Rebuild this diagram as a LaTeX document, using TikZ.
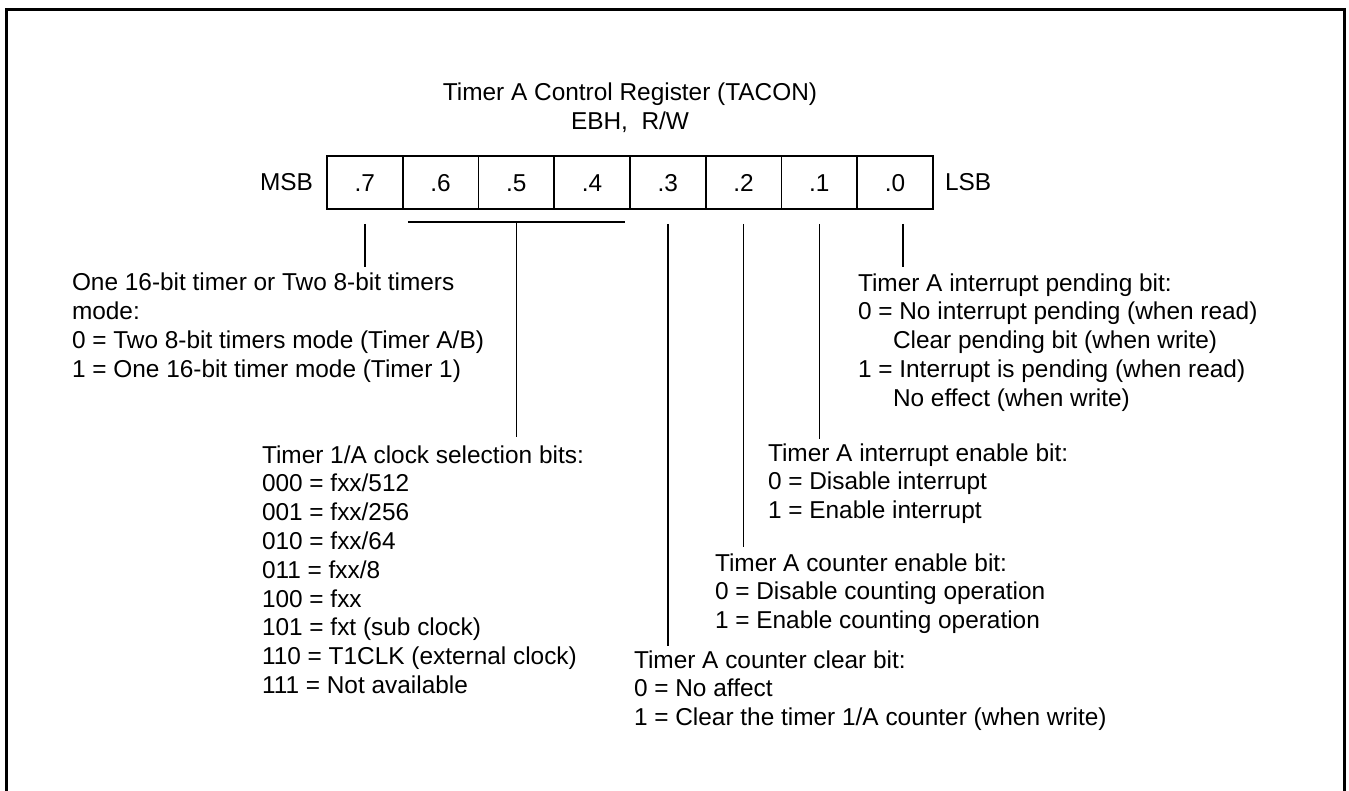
\documentclass[tikz,border=0pt]{standalone}
\usepackage{fontspec}
\setmainfont{Liberation Sans}
\usetikzlibrary{calc}
\begin{document}
\begin{tikzpicture}[x=0.75pt,y=-0.75pt,
  every node/.style={font=\fontsize{18.3}{21.6}\selectfont, inner sep=0pt, outer sep=0pt},
  frameline/.style={line width=2.25pt},
  cell/.style={draw, line width=1.3pt, minimum width=56.81pt, minimum height=39.75pt, text height=13.1pt, text depth=0pt},
  lead/.style={line width=1.1pt},
  desc/.style={align=left, anchor=base west}]
\useasboundingbox (0,0) rectangle (1349,791);
% outer frame (open at the bottom)
\draw[frameline] (6.8,791) -- (6.8,9.7) -- (1344.5,9.7) -- (1344.5,791);
% title
\node[anchor=base] (title) at (630,101) {Timer A Control Register (TACON)};
\node[anchor=base] (addr) at (630,130) {EBH,\ \ R/W};
% register cells
\foreach \b [count=\i from 0] in {7,6,5,4,3,2,1,0}
  \node[cell] (c\b) at ({327+75.75*(\i+0.5)},182.5) {.\b};
\node[anchor=east] (msb) at ($(c7.west)+(-14,0)$) {MSB};
\node[anchor=west] (lsb) at ($(c0.east)+(12,0)$) {LSB};
% descriptions (base = baseline of the last line)
\node[desc] (t7) at (72,377.4) {One 16-bit timer or Two 8-bit timers\\mode:\\0 = Two 8-bit timers mode (Timer A/B)\\1 = One 16-bit timer mode (Timer 1)};
\node[desc] (tclk) at (262,693.4) {Timer 1/A clock selection bits:\\000 = fxx/512\\001 = fxx/256\\010 = fxx/64\\011 = fxx/8\\100 = fxx\\101 = fxt (sub clock)\\110 = T1CLK (external clock)\\111 = Not available};
\node[desc] (t3) at (634,725.6) {Timer A counter clear bit:\\0 = No affect\\1 = Clear the timer 1/A counter (when write)};
\node[desc] (t2) at (715,628.6) {Timer A counter enable bit:\\0 = Disable counting operation\\1 = Enable counting operation};
\node[desc] (t1) at (768,518.6) {Timer A interrupt enable bit:\\0 = Disable interrupt\\1 = Enable interrupt};
\node[desc] (t0) at (858,406.2) {Timer A interrupt pending bit:\\0 = No interrupt pending (when read)\\\hspace*{26.25pt}Clear pending bit (when write)\\1 = Interrupt is pending (when read)\\\hspace*{26.25pt}No effect (when write)};
% leaders
\draw[lead, shorten <=11.25pt, shorten >=4.5pt] (c7.south) -- (c7.south |- t7.north);
\coordinate (brL) at ($(c6.south west)+(5,13)$);
\coordinate (brR) at ($(c4.south east)+(-5,13)$);
\coordinate (brM) at ($(brL)!0.5!(brR)$);
\draw[lead] (brL) -- (brR);
\draw[lead, shorten >=6pt] (brM) -- (brM |- tclk.north);
\draw[lead, shorten <=11.25pt, shorten >=3.5pt] (c3.south) -- (c3.south |- t3.north);
\draw[lead, shorten <=11.25pt, shorten >=5pt] (c2.south) -- (c2.south |- t2.north);
\draw[lead, shorten <=11.25pt, shorten >=3.5pt] (c1.south) -- (c1.south |- t1.north);
\draw[lead, shorten <=11.25pt, shorten >=4.5pt] ([xshift=6pt]c0.south) -- ([xshift=6pt]c0.south |- t0.north);
\end{tikzpicture}
\end{document}
